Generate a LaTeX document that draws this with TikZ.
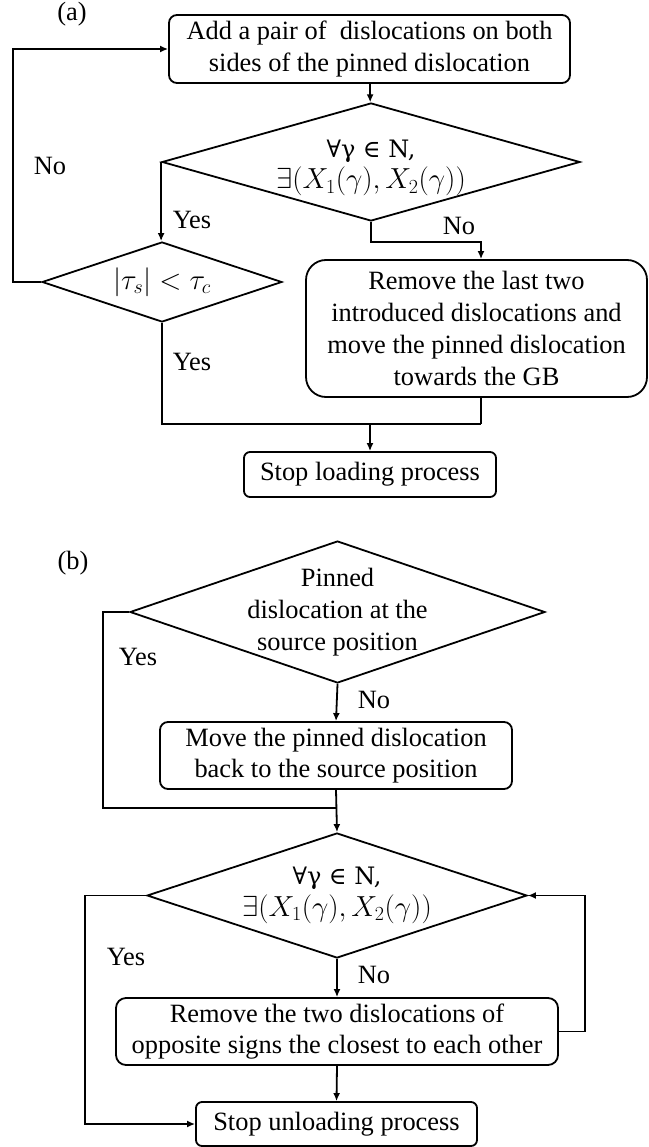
\RequirePackage{fix-cm}
\documentclass[tikz,border=0pt]{standalone}
\usepackage{fontspec}
\setmainfont{Liberation Serif}
\newfontfamily\symfont{DejaVu Serif}
\usetikzlibrary{shapes.geometric,arrows.meta}
\DeclareMathSizes{26.4}{26.4}{18}{14}
\DeclareMathSizes{29}{29}{20}{15}
\tikzset{
  box/.style={draw, line width=1.8pt, rectangle, rounded corners=#1, inner sep=0pt, align=center},
  box/.default=8pt,
  dia/.style={draw, line width=1.8pt, diamond, inner sep=0pt},
  conn/.style={line width=1.8pt},
  arr/.style={line width=1.8pt, -{Latex[length=8pt,width=7pt]}},
  lbl/.style={inner sep=0pt}
}
\newcommand{\forallline}{{\symfont\fontsize{24}{31.7}\selectfont ∀γ ∈ N,}}
\newcommand{\existsline}{{\fontsize{29}{31.7}\selectfont$\exists\bigl(X_1(\gamma),X_2(\gamma)\bigr)$}}
\begin{document}
\begin{tikzpicture}[x=1pt,y=-1pt,font=\fontsize{26.4}{31.7}\selectfont]
\useasboundingbox (0,0) rectangle (648,1147);
% ---------- (a) ----------
\node[lbl] (la) at (72,14) {(a)};
\node[box, minimum width=401pt, minimum height=68pt] (b1) at (369.5,49)
  {Add a pair of\ \ dislocations on both\\sides of the pinned dislocation};
\node[dia, minimum width=418pt, minimum height=118pt,
  label={[align=center,yshift=-6pt]center:{\forallline\\\existsline}}] (d1) at (371,162) {};
\node[dia, minimum width=240pt, minimum height=80pt,
  label={center:{\fontsize{29}{31.7}\selectfont$|\tau_s|<\tau_c$}}] (d2) at (162,282) {};
\node[box=20pt, minimum width=341pt, minimum height=137pt] (b3) at (476.5,328.5)
  {Remove the last two\\introduced dislocations and\\move the pinned dislocation\\towards the GB};
\node[box=6pt, minimum width=252pt, minimum height=45pt] (b4) at (370,474.5)
  {Stop loading process};
\coordinate (c1) at (13,100);
\coordinate (j1) at (481,242);
\coordinate (j2) at (481,424);
\draw[arr] (b1) -- (d1);
\draw[arr] (d1.west) -- (d1.west |- d2.north);
\draw[arr] (d2.west) -| (c1) |- (b1.west);
\draw[arr] (d1.south) |- (j1) -- (j1 |- b3.north);
\draw[conn] (d2.south) |- (j2);
\draw[conn] (j2 |- b3.south) -- (j2);
\draw[arr] (j2 -| b4.north) -- (b4.north);
\node[lbl] (ya1) at (192,220) {Yes};
\node[lbl] (na1) at (50,166) {No};
\node[lbl] (na2) at (459,226) {No};
\node[lbl] (ya2) at (192,362) {Yes};
% ---------- (b) ----------
\node[lbl] (lb) at (73,563) {(b)};
\node[dia, minimum width=415pt, minimum height=142pt,
  label={[align=center]center:{Pinned\\dislocation at the\\source position}}] (d3) at (337.5,612) {};
\node[box, minimum width=352pt, minimum height=67pt] (b5) at (336,755.5)
  {Move the pinned dislocation\\back to the source position};
\node[dia, minimum width=380pt, minimum height=125pt,
  label={[align=center]center:{\forallline\\\existsline}}] (d4) at (337,895.5) {};
\node[box=10pt, minimum width=442pt, minimum height=67pt] (b6) at (337,1031.5)
  {Remove the two dislocations of\\opposite signs the closest to each other};
\node[box=6pt, minimum width=281pt, minimum height=44pt] (b7) at (336.5,1124)
  {Stop unloading process};
\coordinate (c3) at (103,700);
\coordinate (j3) at (337,808);
\coordinate (c4) at (85,1000);
\coordinate (c5) at (585,960);
\draw[arr] (d3.south) -- (b5.north);
\draw[conn] (d3.west) -| (c3) |- (j3);
\draw[arr] (b5.south) -- (d4.north);
\draw[arr] (d4.south) -- (b6.north);
\draw[arr] (b6.south) -- (b7.north);
\draw[arr] (d4.west) -| (c4) |- (b7.west);
\draw[arr] (b6.east) -| (c5) |- (d4.east);
\node[lbl] (nb1) at (374,700) {No};
\node[lbl] (yb1) at (138,657) {Yes};
\node[lbl] (nb2) at (374,975) {No};
\node[lbl] (yb2) at (126,957) {Yes};
\end{tikzpicture}
\end{document}
